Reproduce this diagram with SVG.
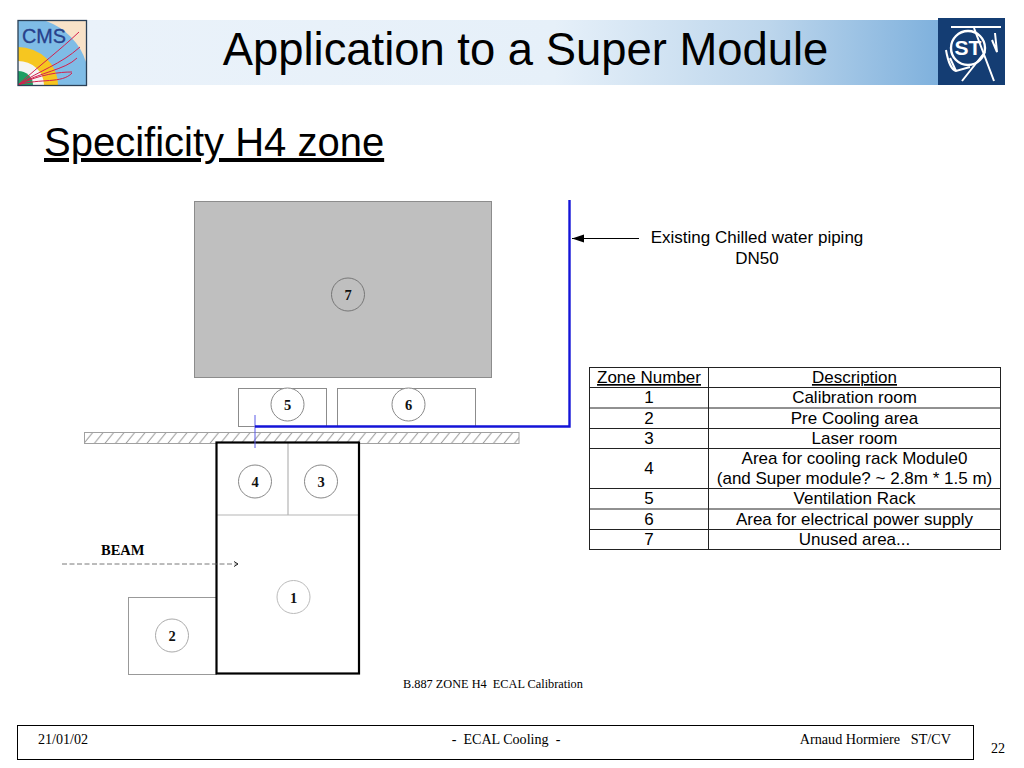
<svg xmlns="http://www.w3.org/2000/svg" width="1024" height="768" viewBox="0 0 1024 768">
<style>
.s{font-family:"Liberation Sans",Arial,sans-serif;fill:#000}
.t{font-family:"Liberation Serif","Times New Roman",serif;fill:#000}
.c{font-size:17px;text-anchor:middle}
.n{font-family:"Liberation Serif",serif;font-weight:bold;font-size:14.500px;text-anchor:middle;fill:#111}
.g{fill:#fff;stroke:#8c8c8c;stroke-width:1}
.b{fill:none;stroke:#000;stroke-width:2.200}
.w{fill:none;stroke:#b5b5b5;stroke-width:1.200}
.p{fill:none;stroke:#1414d8;stroke-width:2.400}
.tl{stroke:#222;stroke-width:1;fill:none}
</style>
<defs>
<linearGradient id="band" x1="0" x2="1" y1="0" y2="0">
<stop offset="0" stop-color="#eaf2fa"/><stop offset="0.55" stop-color="#e6f0f9"/><stop offset="0.8" stop-color="#bdd6ec"/><stop offset="1" stop-color="#7fb1dd"/>
</linearGradient>
<pattern id="hatch" width="10.500" height="12" patternUnits="userSpaceOnUse">
<path d="M-1 12.500 L9.500 -0.500 M9.500 12.500 L20 -0.500" stroke="#999" stroke-width="1" fill="none"/>
</pattern>
<marker id="ah" markerWidth="13" markerHeight="9" refX="12" refY="4.500" orient="auto" markerUnits="userSpaceOnUse"><path d="M12 4.500 L0 0.500 L0 8.500 Z" fill="#000"/></marker>
<marker id="bh" markerWidth="6" markerHeight="6" refX="5" refY="3" orient="auto" markerUnits="userSpaceOnUse"><path d="M1 0.500 L5 3 L1 5.500" fill="none" stroke="#222" stroke-width="1"/></marker>
<clipPath id="cmsclip"><rect x="18" y="21" width="68" height="64"/></clipPath>
<clipPath id="stclip"><rect x="939" y="19" width="66" height="66"/></clipPath>
</defs>
<rect width="1024" height="768" fill="#fff"/>

<g id="header">
<rect x="87" y="20" width="851" height="65" fill="url(#band)"/>
<text class="s" x="525.500" y="65" font-size="45.400" text-anchor="middle">Application to a Super Module</text>
</g>

<g id="cms-logo" clip-path="url(#cmsclip)">
<rect x="18" y="21" width="68" height="64" fill="#f8e2c8"/>
<path d="M18 21 H46 A66 64 0 0 1 86 62 V85 H18 Z" fill="#7fbce6"/>
<path d="M18 47 A40 38 0 0 1 58 85 H18 Z" fill="#f6c620"/>
<path d="M18 61 A26 24 0 0 1 44 85 H18 Z" fill="#f4f4f4"/>
<path d="M18 71 A15 14 0 0 1 33 85 H18 Z" fill="#1f9e63"/>
<text x="22" y="43" font-family="Liberation Sans,sans-serif" font-size="20" textLength="44" lengthAdjust="spacingAndGlyphs" fill="#27408b" stroke="#27408b" stroke-width="0.300">CMS</text>
<path d="M18 85 C40 65 60 50 79 32 M18 85 C40 70 60 65 80 47 M18 85 C40 72 65 70 77 58 M18 85 C40 74 60 72 72 72 M18 85 C40 78 62 84 72 73" fill="none" stroke="#d41f4d" stroke-width="1"/>
</g>
<rect x="18" y="20.500" width="68.500" height="65" fill="none" stroke="#2a3f55" stroke-width="1.300"/>

<g id="st-logo">
<rect x="938" y="18" width="67" height="67" fill="#143d73"/>
<g clip-path="url(#stclip)" fill="none" stroke="#fff" stroke-width="2">
<path d="M951 27 H1001"/>
<circle cx="968" cy="48" r="17" stroke-width="2.400"/>
<path d="M974 28 L994 81 M985 52 L962 81 M995 33 L997 52 L992 40"/>
<path d="M946 50 C948 62 952 70 956 71 L970 67 M956 71 L950 58"/>
</g>
<text x="968" y="55" text-anchor="middle" font-family="Liberation Sans,sans-serif" font-weight="bold" font-size="21" fill="#fff">ST</text>
</g>

<text class="s" x="44" y="156" font-size="40" text-decoration="underline">Specificity H4 zone</text>

<g id="zone7">
<rect x="194.500" y="201.500" width="297" height="176" fill="#bfbfbf" stroke="#8c8c8c"/>
<circle cx="348" cy="294.500" r="16.500" fill="#bfbfbf" stroke="#777"/>
<text class="n" x="348" y="299.500">7</text>
</g>
<g id="zone5">
<rect class="g" x="238.500" y="388.500" width="88" height="38"/>
<circle cx="287.500" cy="404.500" r="16.500" fill="#fff" stroke="#888"/>
<text class="n" x="287.500" y="410">5</text>
</g>
<g id="zone6">
<rect class="g" x="337.500" y="388.500" width="138" height="38"/>
<circle cx="408.500" cy="404.500" r="16.500" fill="#fff" stroke="#888"/>
<text class="n" x="408.500" y="410">6</text>
</g>
<g id="wall">
<rect x="84.500" y="432.500" width="434.500" height="11" fill="url(#hatch)" stroke="#a0a0a0"/>
</g>
<g id="zone2">
<rect x="128.500" y="597.500" width="88" height="77" fill="#fff" stroke="#999"/>
<circle cx="172" cy="635.500" r="16.500" fill="#fff" stroke="#aaa"/>
<text class="n" x="172" y="641">2</text>
</g>
<g id="zone1">
<rect x="216.500" y="442.500" width="142.500" height="231" fill="#fff"/>
<circle cx="293.500" cy="597" r="16.500" fill="#fff" stroke="#bbb"/>
<text class="n" x="293.500" y="602.500">1</text>
</g>
<g id="zone4">
<circle cx="255" cy="481.500" r="16.500" fill="#fff" stroke="#888"/>
<text class="n" x="255" y="487">4</text>
</g>
<g id="zone3">
<circle cx="321" cy="481.500" r="16.500" fill="#fff" stroke="#888"/>
<text class="n" x="321" y="487">3</text>
</g>
<path class="w" d="M217 515 H359 M288 443 V515"/>
<rect class="b" x="216.500" y="442.500" width="142.500" height="231"/>

<g id="connectors">
<path d="M62 564 H238" fill="none" stroke="#555" stroke-width="0.800" stroke-dasharray="5 2.500" marker-end="url(#bh)"/>
<path d="M255 415 V448" fill="none" stroke="#5a5ae8" stroke-width="1"/>
<path class="p" d="M255 426.500 H569.500 V200"/>
<path d="M639 238.500 H572" fill="none" stroke="#000" stroke-width="1.200" marker-end="url(#ah)"/>
</g>
<text class="t" x="101" y="555" font-size="14.500" font-weight="bold">BEAM</text>
<text class="t" x="403" y="688" font-size="12.300" fill="#333" xml:space="preserve">B.887 ZONE H4  ECAL Calibration</text>
<text class="s c" x="757" y="243">Existing Chilled water piping</text>
<text class="s c" x="757" y="264">DN50</text>

<g id="table">
<rect x="589.500" y="367.500" width="411" height="182" fill="#fff" stroke="#222"/>
<path class="tl" d="M708.500 367.500 V549.500 M589.500 387.500 H1000.500 M589.500 408 H1000.500 M589.500 428.500 H1000.500 M589.500 448.500 H1000.500 M589.500 488.500 H1000.500 M589.500 509 H1000.500 M589.500 529.500 H1000.500"/>
<g class="s c">
<text x="649" y="383" text-decoration="underline">Zone Number</text>
<text x="854.500" y="383" text-decoration="underline">Description</text>
<text x="649" y="403">1</text><text x="854.500" y="403">Calibration room</text>
<text x="649" y="423.500">2</text><text x="854.500" y="423.500">Pre Cooling area</text>
<text x="649" y="444">3</text><text x="854.500" y="444">Laser room</text>
<text x="649" y="474">4</text><text x="854.500" y="464">Area for cooling rack Module0</text>
<text x="854.500" y="484">(and Super module? ~ 2.8m * 1.5 m)</text>
<text x="649" y="504">5</text><text x="854.500" y="504">Ventilation Rack</text>
<text x="649" y="524.500">6</text><text x="854.500" y="524.500">Area for electrical power supply</text>
<text x="649" y="545">7</text><text x="854.500" y="545">Unused area...</text>
</g>
</g>

<g id="footer">
<rect x="17.500" y="725.500" width="956" height="34" fill="#fff" stroke="#000"/>
<text class="t" x="38" y="744" font-size="14.100">21/01/02</text>
<text class="t" x="506" y="744" font-size="14.100" text-anchor="middle" xml:space="preserve">-  ECAL Cooling  -</text>
<text class="t" x="951" y="744" font-size="14.200" text-anchor="end" xml:space="preserve">Arnaud Hormiere   ST/CV</text>
<text class="t" x="998" y="753" font-size="14.100" text-anchor="middle">22</text>
</g>
</svg>
